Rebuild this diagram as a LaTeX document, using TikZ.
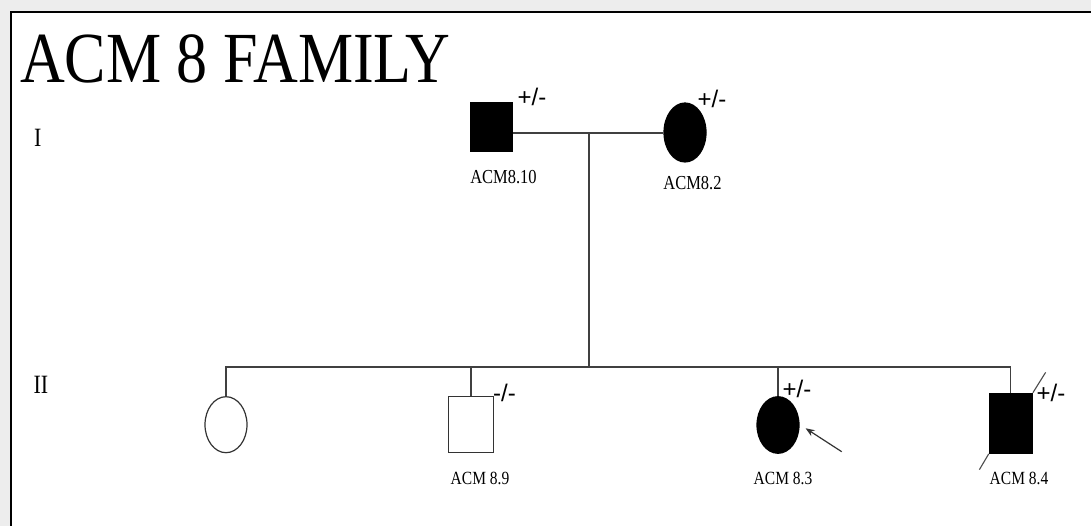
\documentclass[tikz,border=0pt]{standalone}
\usepackage{fontspec}
\setmainfont{Liberation Serif}
\newfontfamily\signfont{Liberation Sans}
\usetikzlibrary{arrows.meta,calc,shapes.geometric}

\tikzset{
  x=1pt, y=-1pt,
  link/.style={draw=black!75, line width=1.3pt},
  male/.style={rectangle, draw=black!80, line width=1.2pt, inner sep=0pt},
  female/.style={ellipse, draw=black!80, line width=1.2pt, inner sep=0pt},
  affected/.style={fill=black, draw=black},
  healthy/.style={fill=white},
  idlabel/.style={inner sep=0pt, font=\fontsize{15.5}{16}\selectfont},
  genolabel/.style={inner sep=0pt, font=\signfont\fontsize{24}{25}\selectfont},
  genlabel/.style={inner sep=0pt, font=\fontsize{22}{24}\selectfont},
}
\newcommand{\tallish}[1]{\scalebox{1}[1.2]{#1}}

\begin{document}
\begin{tikzpicture}
  % page and frame
  \useasboundingbox (0,0) rectangle (1091,526);
  \fill[black!7] (0,0) rectangle (1091,526);
  \fill[white] (11,12) rectangle (1091,526);
  \draw[black, line width=1.8pt] (11,526) -- (11,12) -- (1091,12);

  % title and generation numbers
  \node[inner sep=0pt, anchor=base west, font=\fontsize{62}{62}\selectfont]
    (title) at (20,83) {\scalebox{1}[1.16]{ACM 8 FAMILY}};
  \node[genlabel] (genI)  at (37.7,137.5) {\tallish{I}};
  \node[genlabel] (genII) at (41,385) {\tallish{II}};

  % generation I
  \node[male, affected, minimum width=41.6pt, minimum height=48pt]
    (m1) at (491.5,127) {};
  \node[female, affected, minimum width=42pt, minimum height=59pt]
    (f1) at (685,132.5) {};
  \coordinate (mate) at (589,133);
  \coordinate (sib) at (589,367);

  % generation II
  \node[female, healthy, minimum width=42pt, minimum height=56pt]
    (c1) at (226,424.7) {};
  \node[male, healthy, minimum width=44.3pt, minimum height=55.6pt]
    (c2) at (471,424.5) {};
  \node[female, affected, minimum width=42pt, minimum height=56.6pt]
    (c3) at (778,425) {};
  \node[male, affected, minimum width=43pt, minimum height=60pt]
    (c4) at (1010.8,423.3) {};

  % mating line and descent
  \draw[link] (m1.east |- mate) -- (mate) -- (f1.west |- mate);
  \draw[link] (mate) -- (sib);
  \draw[link] (c1.north) -- (c1.north |- sib) -- (c4.north |- sib) -- (c4.north);
  \draw[link] (c2.north) -- (c2.north |- sib);
  \draw[link] (c3.north) -- (c3.north |- sib);

  % deceased mark
  \draw[black!70, line width=1.1pt]
    ($(c4.south west)+(-9.3,15.7)$) -- (c4.south west)
    (c4.north east) -- ($(c4.north east)+(12.7,-20.3)$);

  % proband arrow
  \coordinate (ptr) at (841.7,451.7);
  \coordinate (ptrtip) at ($(c3.east)+(6,3.3)$);
  \draw[black!80, line width=1.2pt, -{Stealth[length=9pt,width=7pt]}] (ptr) -- (ptrtip);

  % identifiers
  \node[idlabel, font=\fontsize{16.5}{17}\selectfont] (l1) at (503.5,177) {\tallish{ACM8.10}};
  \node[idlabel, font=\fontsize{16.5}{17}\selectfont] (l2) at (692.5,183) {\tallish{ACM8.2}};
  \node[idlabel] (l4) at (480,478) {\tallish{ACM 8.9}};
  \node[idlabel] (l5) at (783,478) {\tallish{ACM 8.3}};
  \node[idlabel] (l6) at (1019,478) {\tallish{ACM 8.4}};

  % genotypes
  \node[genolabel] (g1) at (532,97) {+/-};
  \node[genolabel] (g2) at (712,99) {+/-};
  \node[genolabel] (g4) at (504.5,393) {-/-};
  \node[genolabel] (g5) at (797,389) {+/-};
  \node[genolabel] (g6) at (1051,392.5) {+/-};
\end{tikzpicture}
\end{document}
